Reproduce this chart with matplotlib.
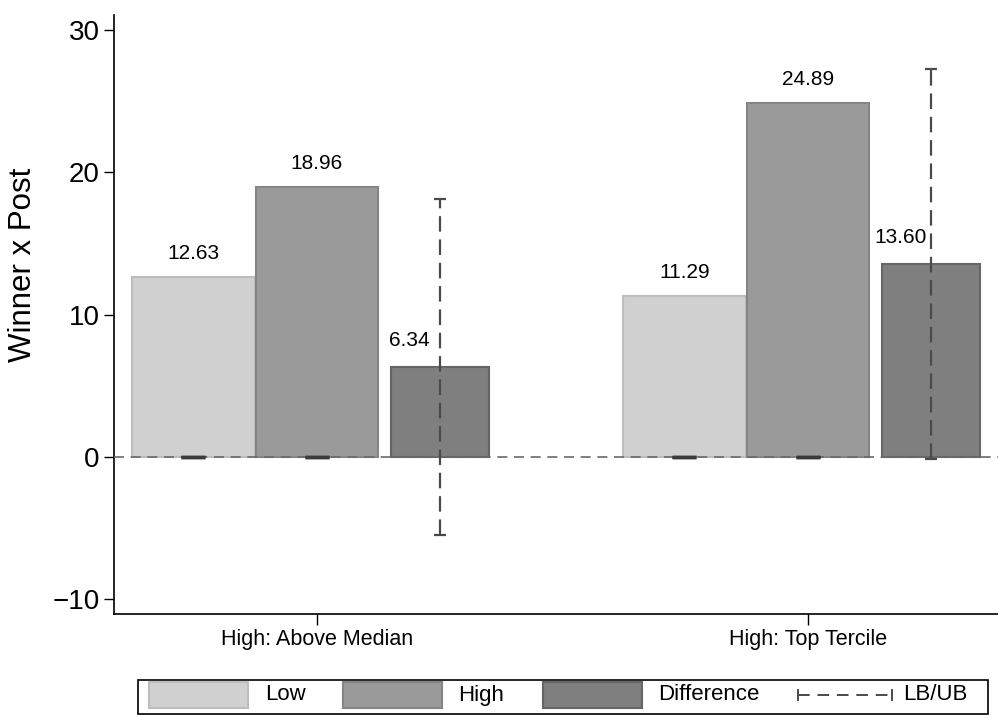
import matplotlib
matplotlib.use("Agg")
import matplotlib.pyplot as plt
from matplotlib.patches import Rectangle
from matplotlib.lines import Line2D

plt.rcParams['font.family'] = ['Liberation Sans', 'DejaVu Sans']

groups = ["High: Above Median", "High: Top Tercile"]
low_vals = [12.63, 11.29]
high_vals = [18.96, 24.89]
diff_vals = [6.34, 13.60]
diff_lb = [-5.48, -0.14]
diff_ub = [18.14, 27.28]
series_names = ["Low", "High", "Difference", "LB/UB"]
yticks = [-10, 0, 10, 20, 30]

c_low, e_low = "#d0d0d0", "#bdbdbd"
c_high, e_high = "#9a9a9a", "#858585"
c_diff, e_diff = "#7f7f7f", "#666666"
c_err = "#4a4a4a"

W, H = 998, 715
fig = plt.figure(figsize=(W / 100, H / 100), dpi=100)
ax = fig.add_axes([114 / W, (H - 614) / H, (998 - 114) / W, (614 - 15) / H])

xs = list(range(len(groups)))
off_low, off_high, off_diff = -0.252, 0.0, 0.25
w_main, w_diff = 0.25, 0.2

xl = [x + off_low for x in xs]
xh = [x + off_high for x in xs]
xd = [x + off_diff for x in xs]

ax.bar(xl, low_vals, width=w_main, color=c_low, edgecolor=e_low, linewidth=1.5, zorder=2)
ax.bar(xh, high_vals, width=w_main, color=c_high, edgecolor=e_high, linewidth=1.5, zorder=2)
ax.bar(xd, diff_vals, width=w_diff, color=c_diff, edgecolor=e_diff, linewidth=1.5, zorder=2)

# zero reference line
ax.axhline(0, color="#6a6a6a", linewidth=1.2, dashes=(6, 4), zorder=3)

# zero-width caps at low/high bars
ax.errorbar(xl + xh, [0] * (len(xl) + len(xh)), yerr=[[0] * 4, [0] * 4], fmt='none',
            ecolor="#3a3a3a", capsize=8.5, capthick=2.5, elinewidth=0, zorder=4)

# difference error bars
for x, lb, ub in zip(xd, diff_lb, diff_ub):
    ax.plot([x, x], [lb, ub], color=c_err, linewidth=1.6, dashes=(7, 3.5), zorder=4)
    ax.plot([x], [lb], marker='_', markersize=8.5, markeredgewidth=1.6, color=c_err, zorder=4)
    ax.plot([x], [ub], marker='_', markersize=8.5, markeredgewidth=1.6, color=c_err, zorder=4)

for x, v in zip(xl, low_vals):
    ax.annotate(f"{v:.2f}", (x, v), xytext=(0, 17), textcoords='offset points',
                ha='center', va='center', fontsize=15)
for x, v in zip(xh, high_vals):
    ax.annotate(f"{v:.2f}", (x, v), xytext=(0, 17), textcoords='offset points',
                ha='center', va='center', fontsize=15)
for x, v in zip(xd, diff_vals):
    ax.annotate(f"{v:.2f}", (x, v), xytext=(-22, 19), textcoords='offset points',
                ha='center', va='center', fontsize=15)

ax.set_xlim(-0.4134, 1.387)
ax.set_ylim(-11.04, 31.07)
ax.set_yticks(yticks)
ax.set_yticklabels(["\u221210" if t < 0 else str(t) for t in yticks])
ax.set_xticks(xs)
ax.set_xticklabels(groups)
ax.tick_params(axis='y', labelsize=20, length=7.5, width=1, pad=3)
ax.tick_params(axis='x', labelsize=15.5, length=8, width=1, pad=3)
for s in ['top', 'right']:
    ax.spines[s].set_visible(False)
for s in ['left', 'bottom']:
    ax.spines[s].set_linewidth(1.2)

fig.text(23 / W, 1 - 265 / H, "Winner x Post", rotation=90, ha='center', va='center', fontsize=22.5)

# legend drawn in figure pixel coords
def fx(px):
    return px / W

def fy(py):
    return 1 - py / H

fig.add_artist(Rectangle((fx(138), fy(714)), fx(988) - fx(138), fy(680) - fy(714),
                         transform=fig.transFigure, fill=False, edgecolor='black', linewidth=1.2))
sw = [(149, c_low, e_low), (343, c_high, e_high), (543, c_diff, e_diff)]
txt_x = [265, 458, 658]
for (x0, c, e), tx, name in zip(sw, txt_x, series_names[:3]):
    fig.add_artist(Rectangle((fx(x0), fy(708)), fx(x0 + 99) - fx(x0), fy(682) - fy(708),
                             transform=fig.transFigure, facecolor=c, edgecolor=e, linewidth=1.5))
    fig.text(fx(tx), fy(695), name, ha='left', va='center', fontsize=16)
fig.add_artist(Line2D([fx(798), fx(892)], [fy(695), fy(695)], transform=fig.transFigure,
                      color=c_err, linewidth=1.4, dashes=(6, 4)))
for xx in (798, 892):
    fig.add_artist(Line2D([fx(xx), fx(xx)], [fy(690), fy(700)], transform=fig.transFigure,
                          color=c_err, linewidth=1.4))
fig.text(fx(903), fy(695), series_names[3], ha='left', va='center', fontsize=16)

fig.savefig("out.png", dpi=100)
